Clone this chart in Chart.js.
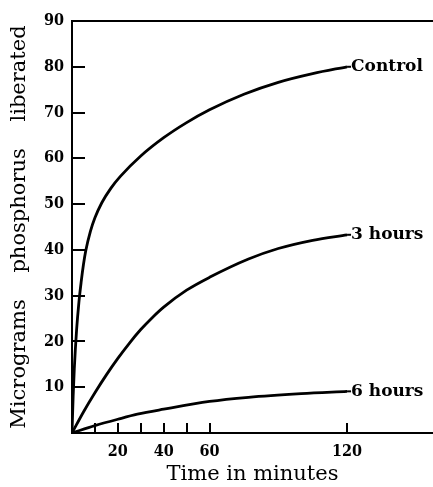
<!DOCTYPE html>
<html>
<head>
<meta charset="utf-8">
<script src="https://cdn.jsdelivr.net/npm/chart.js@4.4.1/dist/chart.umd.min.js"></script>
<style>
  html, body { margin: 0; padding: 0; background: #fff; }
  #wrap { width: 433px; height: 487px; position: relative; }
</style>
</head>
<body>
<div id="wrap"><canvas id="mainChart"></canvas></div>
<script>
// data (time in minutes, micrograms P)
const seriesNames = ['Control', '3 hours', '6 hours'];

const controlTime   = [0, 0.5, 1, 2, 3, 4, 5, 6, 8, 10, 13, 17, 21, 30, 40, 50, 60, 75, 90, 105, 120];
const controlValues = [0, 8, 14, 22.5, 28.5, 33, 36.8, 39.8, 44, 47, 50.3, 53.5, 56, 60.5, 64.5, 67.8, 70.6, 74, 76.6, 78.5, 80];

const hours3Time   = [0, 5, 10, 15, 20, 25, 30, 35, 40, 50, 60, 77, 90, 105, 120];
const hours3Values = [0, 4.6, 8.8, 12.7, 16.3, 19.6, 22.6, 25.2, 27.5, 31.2, 34, 38, 40.3, 42.1, 43.3];

const hours6Time   = [0, 10, 20, 28.5, 40, 60, 77, 100, 120];
const hours6Values = [0, 1.6, 3.0, 4.1, 5.2, 6.9, 7.8, 8.6, 9.1];

const xTickValues = [10, 20, 30, 40, 50, 60, 120];
const xTickLabels = [20, 40, 60, 120];
const yTickMarks  = [10, 20, 30, 40, 50, 60, 70, 80];

function toPoints(xs, ys) {
    return xs.map((x, i) => ({ x: x, y: ys[i] }));
}

const tickFont = { family: "'DejaVu Serif Condensed', 'DejaVu Serif', serif", size: 16, weight: 'bold' };
const titleFont = { family: "'DejaVu Serif', serif", size: 21, weight: 'normal' };

// tick marks pointing into the plot + curve labels
const innerMarks = {
    id: 'innerMarks',
    afterDraw(chart) {
        const c = chart.ctx;
        const area = chart.chartArea;
        const xs = chart.scales.x;
        const ys = chart.scales.y;
        c.save();
        c.strokeStyle = '#000';
        c.lineWidth = 2;
        yTickMarks.forEach(v => {
            const py = Math.round(ys.getPixelForValue(v));
            c.beginPath();
            c.moveTo(area.left, py);
            c.lineTo(area.left + 13, py);
            c.stroke();
        });
        xTickValues.forEach(v => {
            const px = Math.round(xs.getPixelForValue(v));
            c.beginPath();
            c.moveTo(px, area.bottom);
            c.lineTo(px, area.bottom - 10);
            c.stroke();
        });

        c.fillStyle = '#000';
        c.font = "bold 17px 'DejaVu Serif', serif";
        c.textBaseline = 'middle';
        c.textAlign = 'left';
        seriesNames.forEach((name, i) => {
            const pts = chart.getDatasetMeta(i).data;
            const last = pts[pts.length - 1];
            c.beginPath();
            c.moveTo(last.x, last.y);
            c.lineTo(last.x + 4, last.y);
            c.stroke();
            c.fillText(name, last.x + 4, last.y);
        });
        c.restore();
    }
};

const ctx = document.getElementById('mainChart');

new Chart(ctx, {
    type: 'line',
    data: {
        datasets: [
            { label: seriesNames[0], data: toPoints(controlTime, controlValues) },
            { label: seriesNames[1], data: toPoints(hours3Time, hours3Values) },
            { label: seriesNames[2], data: toPoints(hours6Time, hours6Values) }
        ]
    },
    options: {
        responsive: true,
        maintainAspectRatio: false,
        animation: false,
        layout: { padding: { top: 21, right: 0, left: 0, bottom: 0 } },
        elements: {
            line: { borderColor: '#000', borderWidth: 2.8, fill: false, cubicInterpolationMode: 'monotone' },
            point: { radius: 0 }
        },
        plugins: {
            legend: { display: false },
            tooltip: { enabled: false }
        },
        scales: {
            x: {
                type: 'linear',
                min: 0,
                max: 157.5,
                afterBuildTicks: axis => {
                    axis.ticks = xTickValues.map(v => ({ value: v }));
                },
                afterFit: scale => { scale.height = 54; },
                grid: { display: false },
                border: { display: true, color: '#000', width: 2 },
                ticks: {
                    color: '#000',
                    font: tickFont,
                    padding: 1,
                    maxRotation: 0,
                    autoSkip: false,
                    callback: v => xTickLabels.includes(v) ? String(v) : ''
                },
                title: {
                    display: true,
                    text: 'Time in minutes',
                    color: '#000',
                    font: titleFont,
                    padding: { top: 0, bottom: 0 }
                }
            },
            y: {
                min: 0,
                max: 90,
                afterFit: scale => { scale.width = 72; },
                grid: {
                    drawTicks: false,
                    color: c => c.tick && c.tick.value === 90 ? '#000' : 'rgba(0,0,0,0)',
                    lineWidth: 2
                },
                border: { display: true, color: '#000', width: 2 },
                ticks: {
                    stepSize: 10,
                    color: '#000',
                    font: tickFont,
                    padding: 8,
                    callback: v => v === 0 ? '' : String(v)
                },
                title: {
                    display: true,
                    text: 'Micrograms    phosphorus    liberated',
                    color: '#000',
                    font: titleFont,
                    padding: { top: 7, bottom: 0 }
                }
            }
        }
    },
    plugins: [innerMarks]
});
</script>
</body>
</html>
